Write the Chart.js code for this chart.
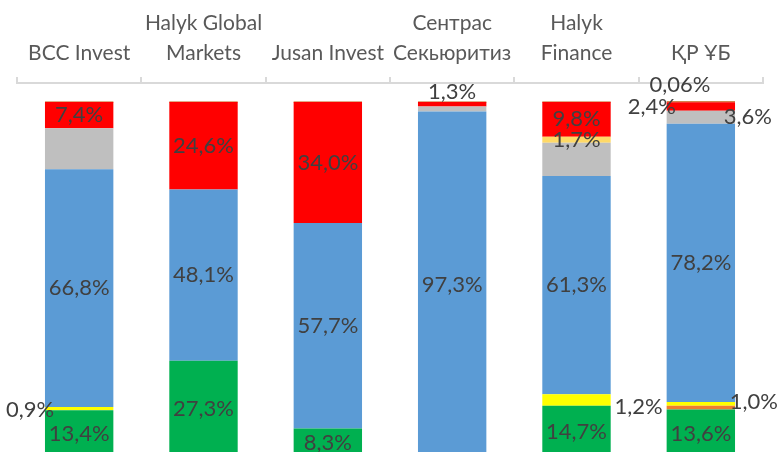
<!DOCTYPE html>
<html>
<head>
<meta charset="utf-8">
<script src="https://cdn.jsdelivr.net/npm/chart.js@4/dist/chart.umd.min.js"></script>
<style>
  html, body { margin: 0; padding: 0; background: #fff; overflow: hidden; }
  #wrap { width: 779px; height: 460px; }
</style>
</head>
<body>
<div id="wrap"><canvas id="chart" width="779" height="460"></canvas></div>
<script>
const categories = [
  "BCC Invest",
  ["Halyk Global", "Markets"],
  "Jusan Invest",
  ["Сентрас", "Секьюритиз"],
  ["Halyk", "Finance"],
  "ҚР ҰБ",
]

// shares, %, bottom to top of each bar
const greenValues = [13.4, 27.3, 8.3, 0, 14.7, 13.6]
const orangeValues = [0, 0, 0, 0, 0, 1.1]
const yellowValues = [0.9, 0, 0, 0, 3.2, 1.0]
const yellowPrinted = [0.9, 0, 0, 0, 1.2, 1.0]
const blueValues = [66.8, 48.1, 57.7, 97.3, 61.3, 78.2]
const grayValues = [11.5, 0, 0, 1.4, 9.3, 3.6]
const goldValues = [0, 0, 0, 0, 1.7, 0]
const redValues = [7.4, 24.6, 34.0, 1.3, 9.8, 2.4]
const brownValues = [0, 0, 0, 0, 0, 0.06]

const font = "Lato, 'Noto Sans', sans-serif"

// labels Excel had moved off their segment: "dataset:index" -> [dx, dy]
const labelMoves = {
  "2:0": [-49, 1],
  "2:4": [62, 7],
  "2:5": [53, -2],
  "6:3": [0, -12],
  "6:5": [-49, 0],
  "4:5": [47, 0],
  "7:5": [-21, -17],
}
const labelSkip = ["4:0", "4:3", "4:4"]

const fmt = v => (v < 0.1 ? v.toFixed(2) : v.toFixed(1)).replace(".", ",") + "%"

const segmentLabels = {
  id: "segmentLabels",
  afterDatasetsDraw(chart) {
    const ctx = chart.ctx
    ctx.save()
    ctx.font = "22px " + font
    ctx.fillStyle = "#404040"
    ctx.textAlign = "center"
    ctx.textBaseline = "middle"
    chart.data.datasets.forEach((ds, di) => {
      if (ds.noLabels) return
      const meta = chart.getDatasetMeta(di)
      meta.data.forEach((bar, i) => {
        const v = ds.data[i]
        const key = di + ":" + i
        if (!v || labelSkip.includes(key)) return
        const shown = ds.printed ? ds.printed[i] : v
        const p = bar.getProps(["x", "y", "base"], true)
        const mv = labelMoves[key] || [0, 0]
        ctx.fillText(fmt(shown), p.x + mv[0], (p.y + p.base) / 2 + mv[1])
      })
    })
    ctx.restore()
  },
}

const mk = (data, color, extra) => Object.assign({
  data,
  backgroundColor: color,
  borderWidth: 0,
  barPercentage: 0.55,
  categoryPercentage: 1,
}, extra || {})

new Chart(document.getElementById("chart"), {
  type: "bar",
  data: {
    labels: categories,
    datasets: [
      mk(greenValues, "#00B050"),
      mk(orangeValues, "#ED7D31", { noLabels: true }),
      mk(yellowValues, "#FFFF00", { printed: yellowPrinted }),
      mk(blueValues, "#5B9BD5"),
      mk(grayValues, "#BFBFBF"),
      mk(goldValues, "#FFD966"),
      mk(redValues, "#FF0000"),
      mk(brownValues, "#C55A11", { minBarLength: 1 }),
    ],
  },
  options: {
    responsive: false,
    devicePixelRatio: 1,
    animation: false,
    layout: { padding: { left: 17, right: 16, top: 0, bottom: 2 } },
    scales: {
      x: {
        position: "top",
        stacked: true,
        grid: {
          offset: true,
          drawOnChartArea: false,
          drawTicks: true,
          tickLength: 6,
          color: "#D9D9D9",
          lineWidth: 2,
        },
        border: { color: "#D9D9D9", width: 2 },
        ticks: {
          color: "#595959",
          font: { family: font, size: 21, lineHeight: 1.45 },
          padding: 8,
          maxRotation: 0,
          autoSkip: false,
        },
      },
      y: {
        stacked: true,
        display: false,
        min: 0,
        max: 105.34,
      },
    },
    plugins: {
      legend: { display: false },
      tooltip: { enabled: false },
    },
  },
  plugins: [segmentLabels],
})
</script>
</body>
</html>
